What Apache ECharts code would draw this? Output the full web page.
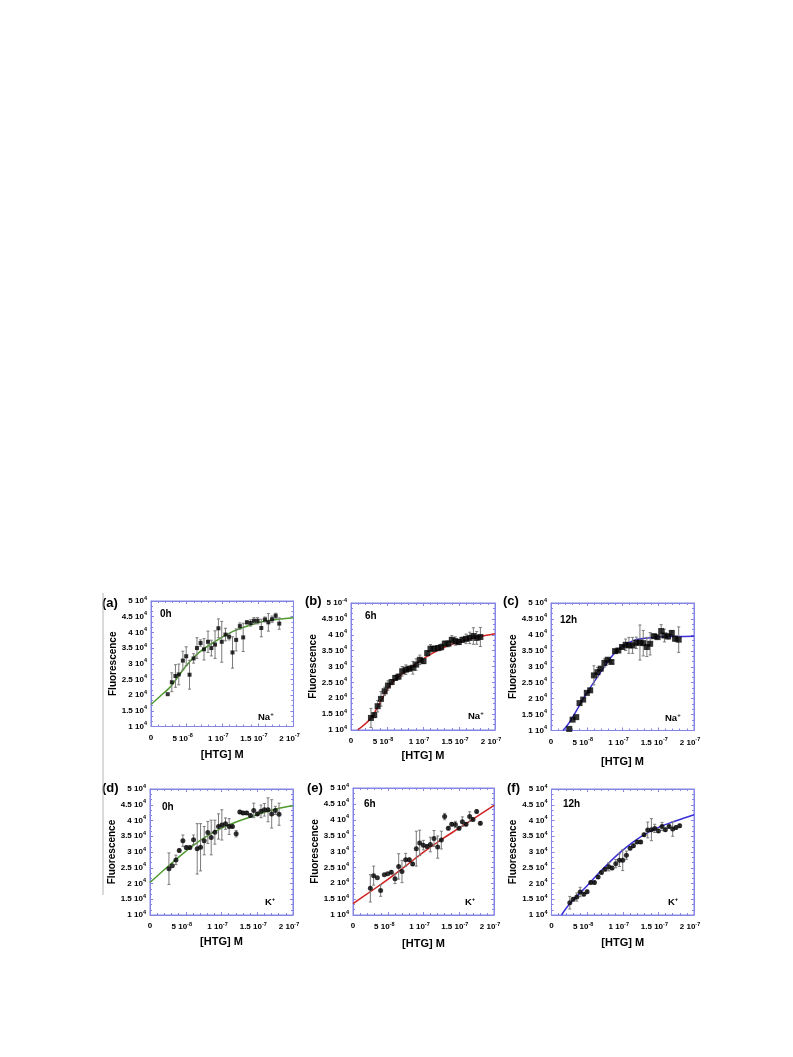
<!DOCTYPE html>
<html>
<head>
<meta charset="utf-8">
<script src="https://cdn.jsdelivr.net/npm/echarts@6/dist/echarts.min.js"></script>
<style>
html,body{margin:0;padding:0;background:#fff;}
#chart{width:793px;height:1057px;}
</style>
</head>
<body>
<div id="chart"></div>
<script>
// ---------- DATA (x in units of 1e-8 M, y = fluorescence) ----------
const xTickMant = ['0', '5', '1', '1.5', '2'];
const xTickExp  = ['', '-8', '-7', '-7', '-7'];
const yTickMant = ['1', '1.5', '2', '2.5', '3', '3.5', '4', '4.5', '5'];
const yTickExp  = ['4', '4', '4', '4', '4', '4', '4', '4', '4'];
const yTickExpB = ['4', '4', '4', '4', '4', '4', '4', '4', '-4'];

// (a) Na+ 0h
const xA = [2.35,2.92,3.43,3.9,4.47,4.94,5.41,5.98,6.45,6.96,7.44,8.0,8.47,8.99,9.46,9.93,10.45,10.96,11.44,11.95,12.47,12.94,13.46,13.98,14.45,14.96,15.48,16.0,16.47,16.99,17.5,18.0];
const yA = [20300,24100,26100,26600,31000,32400,26500,31700,35000,36600,34600,37000,35000,36100,41300,37000,39300,38600,33600,37600,42000,38400,43200,43000,43700,43700,41400,44100,43200,44200,45300,42800];
const errA = [0,3000,3600,3300,3000,3000,4600,1500,3300,1000,3400,3400,2500,4400,3000,6500,2000,1000,5000,3500,1000,4500,500,1000,1000,1000,2800,800,2800,1000,800,1800];
const fitAx = [0,1.2,2.4,3,5,6.8,9.2,11.5,13.9,16.2,20];
const fitAy = [17000,19500,21900,23400,29500,33700,37400,40300,42300,43700,44700];

// (b) Na+ 6h
const xB = [2.77,3.23,3.7,4.16,4.67,5.13,5.64,6.14,6.6,7.11,7.62,8.08,8.59,9.05,9.56,10.07,10.58,11.04,11.55,12.06,12.52,13.03,13.53,14.0,14.5,14.97,15.47,15.98,16.49,17.0,17.46,17.97];
const yB = [13800,14700,17500,19800,22200,24000,25100,26400,26800,28500,29000,29300,29600,30600,32100,31700,34200,35600,35600,35800,36100,37200,37200,38400,38000,37700,38400,38700,39000,39600,39000,39300];
const errB = [3000,800,1800,2300,1300,1500,800,800,800,1500,1500,800,2000,1800,1500,800,800,1300,800,800,1000,800,1000,1300,1300,800,800,1500,1800,2600,2000,3000];
const fitBx = [0.92,2.77,3.7,4.6,5.5,7.5,10,12.5,15,17.5,20];
const fitBy = [10000,13700,17300,21000,24300,28300,32400,35600,37700,39200,40300];

// (c) Na+ 12h
const xC = [2.55,3.02,3.53,3.99,4.5,5.01,5.48,6.0,6.5,6.96,7.47,7.93,8.45,8.96,9.42,9.93,10.44,10.9,11.41,11.93,12.44,12.9,13.41,13.87,14.39,14.9,15.41,15.87,16.38,16.89,17.35,17.86];
const yC = [10500,13400,14200,18600,19700,21800,22600,27300,28300,29400,31200,32200,31500,34900,35100,36200,36900,36700,36700,37500,37600,37400,36200,37200,39600,39300,41200,39800,39500,40600,38800,38500];
const errC = [0,0,0,0,0,0,500,3000,1500,500,1300,500,500,500,500,500,1800,2500,2500,1800,5500,4000,3000,3500,500,500,2000,2000,800,800,800,4000];
const fitCx = [1.67,2.5,5,7.5,9,10,11.5,12.5,15,17.5,20];
const fitCy = [10000,12300,21700,30100,34600,36500,38200,38800,39300,39500,39600];

// (d) K+ 0h
const xD = [2.65,3.12,3.63,4.09,4.6,5.07,5.58,6.09,6.6,7.07,7.58,8.09,8.56,9.07,9.58,10.05,10.56,11.07,11.53,12.05,12.56,13.02,13.53,14.05,14.51,15.02,15.53,16.0,16.51,17.02,17.53,18.05];
const yD = [24700,25600,27500,30500,33600,31400,31400,33900,31000,31500,33600,36200,34600,36300,38100,38600,39000,38100,38100,35800,42700,42400,42400,41600,43200,42100,42900,43400,43400,42100,43200,42000];
const errD = [5000,0,1500,500,1800,500,500,1500,8000,7500,4500,3500,5500,3800,4000,4800,1800,2500,500,1000,500,500,500,500,2300,500,2000,2000,3800,4500,1300,3500];
const fitDx = [0,2.5,5,7.5,10,12.5,15,17.5,20];
const fitDy = [20300,25400,30200,34400,37600,39900,41800,43600,44700];

// (e) K+ 6h
const xE = [2.46,2.93,3.45,3.92,4.44,4.92,5.44,5.96,6.48,6.95,7.47,7.99,8.46,8.98,9.46,9.98,10.5,10.97,11.49,12.01,12.53,13.0,13.52,14.0,14.52,15.04,15.51,16.03,16.55,17.02,17.54,18.06];
const yE = [18400,22400,21700,17700,22700,23000,23500,21400,25300,23700,27400,27400,26100,30900,32700,32000,31600,32200,34100,31400,33600,41000,37300,38600,38500,37300,39400,38600,41000,40100,42600,38900];
const errE = [4300,3000,0,1800,0,0,500,1500,4000,3500,2000,500,500,5500,4000,1500,500,2300,2500,3500,2800,1000,500,500,1000,500,1500,500,1500,500,500,500];
const fitEx = [0,2.5,5,7.5,10,12.5,15,17.5,20];
const fitEy = [13600,17400,21300,25500,29800,33700,37300,40900,44500];

// (f) K+ 12h
const xF = [2.57,3.04,3.55,4.02,4.53,5.0,5.51,6.03,6.54,7.01,7.52,8.04,8.5,9.02,9.53,10.0,10.51,11.03,11.5,12.01,12.52,12.99,13.5,14.02,14.49,15.0,15.51,15.98,16.5,17.01,17.48,17.99];
const yF = [13900,15000,15700,17300,16600,17400,20300,20300,22100,23500,24500,25300,24900,26300,27400,27400,29000,31200,32000,33200,33200,35500,37000,37100,37500,36700,38100,37100,38100,37300,37800,38300];
const errF = [2000,500,1300,1500,500,500,500,500,500,500,500,1300,500,1300,2000,3300,1300,500,500,500,500,500,2500,3500,1300,500,1300,500,500,2300,500,500];
const fitFx = [1.4,2.5,5,7.5,10,12.5,15,17.5,20];
const fitFy = [10000,13400,19300,25300,30600,34800,37800,39900,41800];

// ---------- LAYOUT / STYLE ----------
const FONT = '"Liberation Sans", Arial, sans-serif';
const BOX = '#8585e6';
const panels = [
  {x:xA,y:yA,e:errA,fx:fitAx,fy:fitAy,color:'#4e9a2e',sym:'rect',size:4,  time:'0h', ion:'Na',letter:'(a)',exps:yTickExp,
   grid:{left:151,top:601,width:142.5,height:125.5}, yGap:33, xGap:23, L:[102,605], T:[160,615], I:[258,717]},
  {x:xB,y:yB,e:errB,fx:fitBx,fy:fitBy,color:'#d02222',sym:'rect',size:6,  time:'6h', ion:'Na',letter:'(b)',exps:yTickExpB,
   grid:{left:351,top:603,width:144,height:127}, yGap:30, xGap:20, L:[305,603], T:[365,617], I:[468,716]},
  {x:xC,y:yC,e:errC,fx:fitCx,fy:fitCy,color:'#3a2fd8',sym:'rect',size:6,  time:'12h',ion:'Na',letter:'(c)',exps:yTickExp,
   grid:{left:551,top:603,width:143,height:127.5}, yGap:32, xGap:26, L:[503,603], T:[560,621], I:[665,718]},
  {x:xD,y:yD,e:errD,fx:fitDx,fy:fitDy,color:'#4e9a2e',sym:'circle',size:5,time:'0h', ion:'K', letter:'(d)',exps:yTickExp,
   grid:{left:150,top:789,width:143,height:126}, yGap:32, xGap:21, L:[102,790], T:[162,808], I:[265,902]},
  {x:xE,y:yE,e:errE,fx:fitEx,fy:fitEy,color:'#d02222',sym:'circle',size:5,time:'6h', ion:'K', letter:'(e)',exps:yTickExp,
   grid:{left:353,top:788,width:141,height:127}, yGap:32, xGap:23, L:[307,790], T:[364,805], I:[465,902]},
  {x:xF,y:yF,e:errF,fx:fitFx,fy:fitFy,color:'#3a2fd8',sym:'circle',size:5,time:'12h',ion:'K', letter:'(f)',exps:yTickExp,
   grid:{left:551.5,top:789,width:142.5,height:126}, yGap:32, xGap:22, L:[507,790], T:[563,805], I:[668,902]}
];

const rich = {
  m:{fontSize:8, fontWeight:'bold', fontFamily:FONT, color:'#000', lineHeight:10},
  s:{fontSize:5.5, fontWeight:'bold', fontFamily:FONT, color:'#000', lineHeight:6, padding:[0,0,6,0]},
  p:{width:8}
};

const grids=[], xAxes=[], yAxes=[], series=[], graphics=[];
const tickBase = {show:true, inside:true, length:3, lineStyle:{color:BOX}};
const minorBase = {show:true, length:2, lineStyle:{color:BOX}};

panels.forEach((P, i) => {
  grids.push(Object.assign({show:true, borderColor:BOX, borderWidth:1, backgroundColor:'transparent'}, P.grid));
  const xCommon = {type:'value', gridIndex:i, min:0, max:20, interval:5, splitLine:{show:false},
    axisLine:{show:true, onZero:false, lineStyle:{color:BOX}}, axisTick:tickBase,
    minorTick:Object.assign({splitNumber:5}, minorBase)};
  xAxes.push(Object.assign({}, xCommon, {position:'bottom',
    name:'[HTG] M', nameLocation:'middle', nameGap:P.xGap,
    nameTextStyle:{fontSize:11, fontWeight:'bold', fontFamily:FONT, color:'#000'},
    axisLabel:{margin:6, rich:rich, formatter:function(v){
      const k=Math.round(v/5); const e=xTickExp[k];
      return e ? '{m|'+xTickMant[k]+' 10}{s|'+e+'}{p|}' : '{m|'+xTickMant[k]+'}';
    }}}));
  xAxes.push(Object.assign({}, xCommon, {position:'top', axisLabel:{show:false}}));
  const yCommon = {type:'value', gridIndex:i, min:10000, max:50000, interval:5000, splitLine:{show:false},
    axisLine:{show:true, onZero:false, lineStyle:{color:BOX}}, axisTick:tickBase,
    minorTick:Object.assign({splitNumber:3}, minorBase)};
  yAxes.push(Object.assign({}, yCommon, {position:'left',
    name:'Fluorescence', nameLocation:'middle', nameGap:P.yGap, nameRotate:90,
    nameTextStyle:{fontSize:10, fontWeight:'bold', fontFamily:FONT, color:'#000'},
    axisLabel:{margin:4, rich:rich, formatter:function(v){
      const k=Math.round((v-10000)/5000);
      return '{m|'+yTickMant[k]+' 10}{s|'+P.exps[k]+'}';
    }}}));
  yAxes.push(Object.assign({}, yCommon, {position:'right', axisLabel:{show:false}}));

  const xa = 2*i, ya = 2*i;
  series.push({type:'line', xAxisIndex:xa, yAxisIndex:ya, smooth:0.4, symbol:'none', z:2,
    lineStyle:{color:P.color, width:1.5}, data:P.fx.map((x,k)=>[x,P.fy[k]])});
  series.push({type:'custom', xAxisIndex:xa, yAxisIndex:ya, z:3, clip:true,
    encode:{x:0, y:[1,2]},
    data:P.x.map((x,k)=>[x, P.y[k]-P.e[k], P.y[k]+P.e[k]]).filter((d)=>d[2]>d[1]),
    renderItem:function(params, api){
      const x=api.value(0), p1=api.coord([x,api.value(1)]), p2=api.coord([x,api.value(2)]);
      const c=1.5, st={stroke:'#7a7a7a', lineWidth:1};
      return {type:'group', children:[
        {type:'line', shape:{x1:p1[0],y1:p1[1],x2:p2[0],y2:p2[1]}, style:st},
        {type:'line', shape:{x1:p1[0]-c,y1:p1[1],x2:p1[0]+c,y2:p1[1]}, style:st},
        {type:'line', shape:{x1:p2[0]-c,y1:p2[1],x2:p2[0]+c,y2:p2[1]}, style:st}
      ]};
    }});
  series.push({type:'scatter', xAxisIndex:xa, yAxisIndex:ya, z:4, symbol:P.sym, symbolSize:P.size,
    itemStyle:{color:'#000'}, data:P.x.map((x,k)=>[x,P.y[k]])});

  graphics.push({type:'text', left:P.L[0], top:P.L[1]-8, style:{text:P.letter, fontSize:13, fontWeight:'bold', fontFamily:FONT, fill:'#000'}});
  graphics.push({type:'text', left:P.T[0], top:P.T[1]-6, style:{text:P.time, fontSize:10, fontWeight:'bold', fontFamily:FONT, fill:'#000'}});
  graphics.push({type:'text', left:P.I[0], top:P.I[1]-6, style:{rich:{
      a:{fontSize:9.5, fontWeight:'bold', fontFamily:FONT, fill:'#000', lineHeight:12},
      b:{fontSize:6, fontWeight:'bold', fontFamily:FONT, fill:'#000', lineHeight:6, padding:[0,0,6,0]}},
      text:'{a|'+P.ion+'}{b|+}'}});
});

graphics.push({type:'line', shape:{x1:103,y1:593,x2:103,y2:895}, style:{stroke:'#b5b5b5', lineWidth:1}});

const chart = echarts.init(document.getElementById('chart'), null, {renderer:'canvas'});
chart.setOption({
  animation:false,
  backgroundColor:'#fff',
  textStyle:{fontFamily:FONT},
  grid:grids, xAxis:xAxes, yAxis:yAxes, series:series, graphic:graphics
});
</script>
</body>
</html>
